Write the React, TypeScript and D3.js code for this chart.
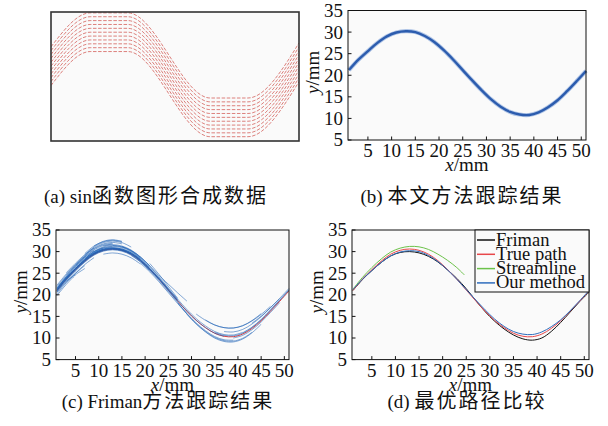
import React from 'react';
import * as d3 from 'd3';

// sample positions (mm) shared by the tracked paths
const xs = [1, 3, 5, 7, 9, 11, 13, 15, 17, 19, 21, 23, 25, 27, 29, 31, 33, 35, 37, 39, 41, 43, 45, 47, 49, 51];
const truePath = [21.0, 23.6, 25.8, 27.8, 29.4, 30.3, 30.6, 30.3, 29.4, 27.9, 25.9, 23.6, 21.1, 18.6, 16.2, 14.1, 12.4, 11.1, 10.4, 10.3, 10.9, 12.2, 14.0, 16.2, 18.5, 20.9];
const ourMethod = [21.2, 23.6, 25.6, 27.5, 29.0, 29.9, 30.2, 30.0, 29.1, 27.7, 25.8, 23.6, 21.2, 18.8, 16.5, 14.4, 12.7, 11.5, 10.9, 10.8, 11.4, 12.6, 14.2, 16.3, 18.6, 21.0];
const friman = [21.0, 23.5, 25.6, 27.5, 29.0, 29.8, 30.0, 29.7, 28.9, 27.6, 25.8, 23.8, 21.4, 18.7, 16.1, 13.9, 12.1, 10.7, 9.8, 9.5, 10.0, 11.5, 13.6, 16.0, 18.4, 20.6];
const streamX = [1, 3, 5, 7, 9, 11, 13, 15, 17, 19, 21, 23, 24.6];
const streamline = [21.3, 24.0, 26.3, 28.3, 29.9, 30.8, 31.2, 31.1, 30.5, 29.4, 28.0, 26.3, 24.6];

const xTicks = [5, 10, 15, 20, 25, 30, 35, 40, 45, 50];
const yTicks = [5, 10, 15, 20, 25, 30, 35];

// (a) synthetic sin-like band: one polyline, repeated with vertical shifts
const synthX = [0, 7.9, 15.5, 32.1, 39.7, 50];
const synthY = [26.9, 34.8, 34.8, 15.0, 15.0, 27.8];
const bandShift = [0, -0.9, -1.8, -2.7, -3.6, -4.5, -5.4, -6.3, -7.2, -8.1, -9.0];

// (c) Friman fibres: [from x, to x, amplitude scale, vertical shift] relative to the true path
const pathMid = 20.4;
const fibers = [
  [1, 9, 1, -0.8], [1, 11, 1, 0.6], [1, 7, 1, 1.2], [1, 13, 1.05, 0], [1, 5, 1, -1.2],
  [3, 9, 1, 1.5], [1, 19, 1, 0.3], [1, 21, 1.02, -0.4], [3, 7, 0.7, 0.5], [1, 7, 0.9, -0.3],
  [5, 15, 1.1, 0.5], [7, 17, 1.15, 0.3], [9, 15, 1.2, 0.1], [11, 21, 1.05, 0.5], [13, 23, 1, 0.8],
  [15, 27, 1, 0.3], [17, 27, 1, -0.3], [11, 19, 0.95, -0.4], [19, 29, 1, -0.6], [21, 27, 1.1, 0.8],
  [23, 29, 0.8, 1.5], [7, 15, 1.1, 1.0], [25, 41, 1, 0.4], [27, 45, 1.1, -0.2], [29, 43, 1.05, -0.5],
  [31, 47, 0.85, 0.5], [33, 45, 0.9, 1.0], [35, 51, 1, 0.2], [37, 51, 0.95, 0.6], [39, 49, 1, -0.3],
  [25, 37, 1, 0], [27, 39, 1.05, -0.3], [41, 51, 1, 0.3], [43, 49, 0.9, 0.4], [1, 25, 1, 0.1],
  [1, 15, 1, 0.2], [1, 17, 1.02, -0.2], [1, 11, 0.98, 0.4], [3, 19, 1.03, 0], [1, 23, 1, -0.1],
  [5, 21, 1.04, 0.2], [1, 9, 1, 0.9], [9, 25, 1, 0.1], [13, 27, 1.02, -0.1], [1, 13, 1.08, 0.3],
  [7, 19, 1.1, -0.2], [15, 25, 1.05, 0.4], [1, 5, 0.95, 0.6], [3, 13, 1.06, 0.7], [19, 27, 1, 0.2],
];

const legendNames = ['Friman', 'True path', 'Streamline', 'Our method'];
const legendColors = ['#111111', '#e8474a', '#6cc24a', '#2f6dbd'];

// captions: latin prefix + chinese text
const captionHead = ['(a) sin', '(b) ', '(c) Friman', '(d) '];
const captionCjk = ['函数图形合成数据', '本文方法跟踪结果', '方法跟踪结果', '最优路径比较'];

const font = '"Liberation Serif", "Noto Sans CJK SC", serif';

type Box = { left: number; right: number; top: number; bottom: number };

function scalesFor(box: Box) {
  const x = d3.scaleLinear().domain([0.8, 51]).range([box.left, box.right]);
  const y = d3.scaleLinear().domain([5, 35]).range([box.bottom, box.top]);
  return { x, y };
}

function Axes({ box, yLabelX }: { box: Box; yLabelX: number }) {
  const { x, y } = scalesFor(box);
  return (
    <g fontFamily={font} fontSize={19} fill="#111">
      <rect x={box.left} y={box.top} width={box.right - box.left} height={box.bottom - box.top} fill="none" stroke="#111" strokeWidth={1} />
      {xTicks.map(t => (
        <g key={'x' + t}>
          <line x1={x(t)} x2={x(t)} y1={box.bottom} y2={box.bottom - 3.5} stroke="#111" />
          <text x={x(t)} y={box.bottom + 17} textAnchor="middle">{t}</text>
        </g>
      ))}
      {yTicks.map(t => (
        <g key={'y' + t}>
          <line x1={box.left} x2={box.left + 3.5} y1={y(t)} y2={y(t)} stroke="#111" />
          <text x={box.left - 5} y={y(t)} dy="0.34em" textAnchor="end">{t}</text>
        </g>
      ))}
      <text x={(box.left + box.right) / 2} y={box.bottom + 31} textAnchor="middle">
        <tspan fontStyle="italic">x</tspan>/mm
      </text>
      <text transform={`translate(${yLabelX},${(box.top + box.bottom) / 2 - 3}) rotate(-90)`} textAnchor="middle">
        <tspan fontStyle="italic">y</tspan>/mm
      </text>
    </g>
  );
}

export default function App() {
  const boxA: Box = { left: 51, right: 299, top: 12, bottom: 141 };
  const boxB: Box = { left: 348, right: 586, top: 10.5, bottom: 140 };
  const boxC: Box = { left: 56, right: 289, top: 230, bottom: 359.6 };
  const boxD: Box = { left: 352, right: 589, top: 230, bottom: 359.6 };

  // panel (a)
  const ax = d3.scaleLinear().domain([0, 50]).range([boxA.left, boxA.right]);
  const ay = d3.scaleLinear().domain([5, 35]).range([boxA.bottom, boxA.top]);
  const bandLine = d3.line<number>().x((_, i) => ax(synthX[i])).y(d => ay(d)).curve(d3.curveMonotoneX);

  const sb = scalesFor(boxB);
  const sc = scalesFor(boxC);
  const sd = scalesFor(boxD);
  const mk = (s: ReturnType<typeof scalesFor>, xv: number[]) =>
    d3.line<number>().x((_, i) => s.x(xv[i])).y(d => s.y(d)).curve(d3.curveCatmullRom);

  const fiberPath = (f: number[]) => {
    const [x0, x1, k, dy] = f;
    const pts = xs.map((xv, i) => [xv, pathMid + k * (truePath[i] - pathMid) + dy] as [number, number])
      .filter(p => p[0] >= x0 && p[0] <= x1);
    return d3.line<[number, number]>().x(p => sc.x(p[0])).y(p => sc.y(p[1])).curve(d3.curveCatmullRom)(pts) || '';
  };

  const capPos = [[156, 203], [462, 203], [168, 408], [467, 408]];

  return (
    <div style={{ position: 'fixed', left: 0, top: 0, background: '#fff' }}>
      <svg width={608} height={426} style={{ display: 'block' }}>
        <defs>
          <clipPath id="clipA"><rect x={boxA.left} y={boxA.top} width={boxA.right - boxA.left} height={boxA.bottom - boxA.top} /></clipPath>
        </defs>
        <rect width={608} height={426} fill="#fff" />
        {[boxA, boxB, boxC, boxD].map((b, i) => (
          <rect key={i} x={b.left} y={b.top} width={b.right - b.left} height={b.bottom - b.top} fill="#fafafa" />
        ))}

        {/* (a) */}
        <g clipPath="url(#clipA)">
          {bandShift.map((s, i) => (
            <path key={i} d={bandLine(synthY.map(v => v + s)) || ''} fill="none" stroke="#d0504a"
              strokeWidth={0.9} strokeDasharray="3.5,1.6" opacity={0.8} />
          ))}
        </g>
        <rect x={boxA.left} y={boxA.top} width={boxA.right - boxA.left} height={boxA.bottom - boxA.top} fill="none" stroke="#333" strokeWidth={1.6} />

        {/* (b) */}
        <path d={mk(sb, xs)(ourMethod) || ''} fill="none" stroke="#7fa2d8" strokeWidth={4.2} opacity={0.6} />
        <path d={mk(sb, xs)(ourMethod) || ''} fill="none" stroke="#2c5cae" strokeWidth={2.4} />
        <Axes box={boxB} yLabelX={319} />

        {/* (c) */}
        <path d={mk(sc, xs)(truePath) || ''} fill="none" stroke="#e0403f" strokeWidth={1} />
        {fibers.map((f, i) => (
          <path key={i} d={fiberPath(f)} fill="none" stroke="#1a5fb4" strokeWidth={1} opacity={0.55} />
        ))}
        <Axes box={boxC} yLabelX={27} />

        {/* (d) */}
        <path d={mk(sd, xs)(friman) || ''} fill="none" stroke={legendColors[0]} strokeWidth={1} />
        <path d={mk(sd, xs)(truePath) || ''} fill="none" stroke={legendColors[1]} strokeWidth={1} />
        <path d={mk(sd, streamX)(streamline) || ''} fill="none" stroke={legendColors[2]} strokeWidth={1} />
        <path d={mk(sd, xs)(ourMethod) || ''} fill="none" stroke={legendColors[3]} strokeWidth={1} />
        <Axes box={boxD} yLabelX={323} />
        <g fontFamily={font} fontSize={18.5} fill="#111">
          <rect x={475} y={boxD.top} width={boxD.right - 475} height={62} fill="#fafafa" stroke="#111" strokeWidth={1} />
          {legendNames.map((n, i) => (
            <g key={n} transform={`translate(0,${240 + i * 14.3})`}>
              <line x1={477} x2={495} y1={0} y2={0} stroke={legendColors[i]} strokeWidth={1.5} />
              <text x={496} y={5.5}>{n}</text>
            </g>
          ))}
        </g>

        {/* captions */}
        <g fontFamily={font} fill="#111" textAnchor="middle">
          {captionHead.map((h, i) => (
            <text key={i} x={capPos[i][0]} y={capPos[i][1]}>
              <tspan fontSize={19}>{h}</tspan>
              <tspan fontSize={20} letterSpacing={2} fontFamily='"Noto Sans CJK SC", sans-serif'>{captionCjk[i]}</tspan>
            </text>
          ))}
        </g>
      </svg>
    </div>
  );
}
